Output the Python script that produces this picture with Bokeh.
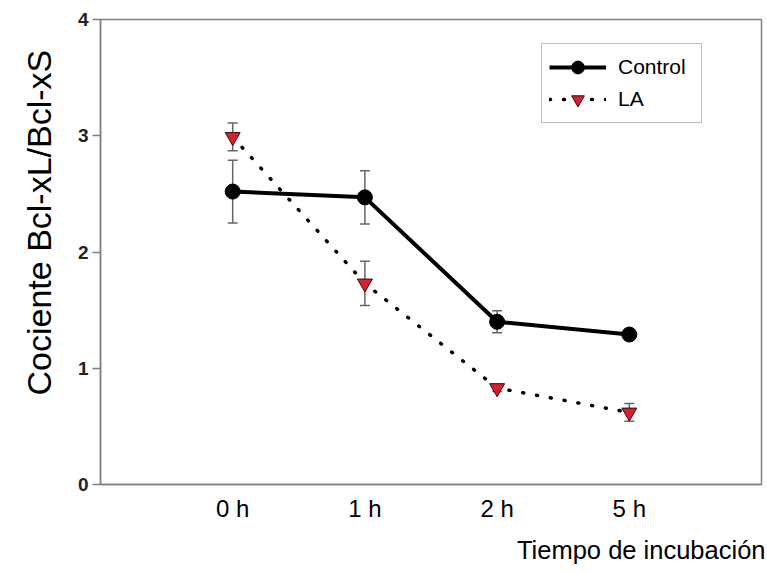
from bokeh.plotting import figure
from bokeh.models import ColumnDataSource, Whisker, FixedTicker, Title, TeeHead
from bokeh.embed import file_html
from bokeh.resources import INLINE

categories = ["0 h", "1 h", "2 h", "5 h"]
control = [2.52, 2.47, 1.40, 1.29]
control_err = [0.27, 0.23, 0.095, 0.03]
la = [2.99, 1.73, 0.83, 0.62]
la_err = [0.12, 0.19, 0.03, 0.076]
y_ticks = [0, 1, 2, 3, 4]

xs = list(range(1, len(categories) + 1))
FONT = "Liberation Sans"

src_c = ColumnDataSource(dict(x=xs, y=control,
                              lo=[v - e for v, e in zip(control, control_err)],
                              hi=[v + e for v, e in zip(control, control_err)]))
src_l = ColumnDataSource(dict(x=xs, y=la,
                              lo=[v - e for v, e in zip(la, la_err)],
                              hi=[v + e for v, e in zip(la, la_err)]))

p = figure(width=767, height=574, x_range=(0, 5), y_range=(0, 4),
           output_backend="svg", toolbar_location=None,
           min_border_left=100, min_border_right=6, min_border_top=19,
           min_border_bottom=90)
p.grid.visible = False
p.outline_line_color = "#808080"
p.outline_line_width = 1.5

# error bars
for src in (src_c, src_l):
    w = Whisker(source=src, base="x", lower="lo", upper="hi",
                line_color="#666666", line_width=1.5,
                upper_head=TeeHead(size=10, line_color="#666666", line_width=1.5),
                lower_head=TeeHead(size=10, line_color="#666666", line_width=1.5))
    p.add_layout(w)

p.line("x", "y", source=src_c, line_color="black", line_width=4, legend_label="Control")
p.scatter("x", "y", source=src_c, marker="circle", size=15, fill_color="black",
          line_color="black", legend_label="Control")

p.line("x", "y", source=src_l, line_color="black", line_width=3.5,
       line_dash="1 13", line_cap="round", legend_label="LA")
p.scatter("x", "y", source=src_l, marker="inverted_triangle", size=15,
          fill_color="#d42030", line_color="#3a0a0a", line_width=1,
          legend_label="LA")

# x axis
p.xaxis.ticker = FixedTicker(ticks=xs)
p.xaxis.major_label_overrides = {x: c for x, c in zip(xs, categories)}
p.xaxis.major_tick_line_color = None
p.xaxis.minor_tick_line_color = None
p.xaxis.axis_line_color = "#808080"
p.xaxis.axis_line_width = 1.5
p.xaxis.major_label_text_font = FONT
p.xaxis.major_label_text_font_size = "24px"
p.xaxis.major_label_text_color = "black"
p.xaxis.major_label_standoff = 4

# y axis
p.yaxis.ticker = FixedTicker(ticks=y_ticks)
p.yaxis.minor_tick_line_color = None
p.yaxis.major_tick_out = 8
p.yaxis.major_tick_in = 0
p.yaxis.major_tick_line_color = "#808080"
p.yaxis.major_tick_line_width = 1.5
p.yaxis.axis_line_color = "#808080"
p.yaxis.axis_line_width = 1.5
p.yaxis.major_label_text_font = FONT
p.yaxis.major_label_text_font_size = "19px"
p.yaxis.major_label_text_font_style = "bold"
p.yaxis.major_label_text_color = "#222222"
p.yaxis.major_label_standoff = 4

# y axis title, offset upward like the original
p.add_layout(Title(text="Cociente Bcl-xL/Bcl-xS", align="left", offset=89,
                   vertical_align="top",
                   text_font=FONT, text_font_size="34px", text_font_style="normal",
                   text_color="black", standoff=30), "left")

p.add_layout(Title(text="Tiempo de incubación", align="right", text_font=FONT,
                   text_font_size="25.5px", text_font_style="normal",
                   text_color="black", standoff=18, offset=-4), "below")

# legend
lg = p.legend[0]
lg.location = (441, 361)
lg.border_line_color = "#808080"
lg.border_line_width = 1.5
lg.background_fill_color = "white"
lg.background_fill_alpha = 1
lg.label_text_font = FONT
lg.label_text_font_size = "21px"
lg.label_text_color = "black"
lg.glyph_width = 57
lg.glyph_height = 32
lg.label_height = 27
lg.label_width = 76
lg.label_standoff = 12
lg.padding = 7
lg.spacing = 0
lg.margin = 0

open("out.html", "w").write(file_html(p, INLINE))
